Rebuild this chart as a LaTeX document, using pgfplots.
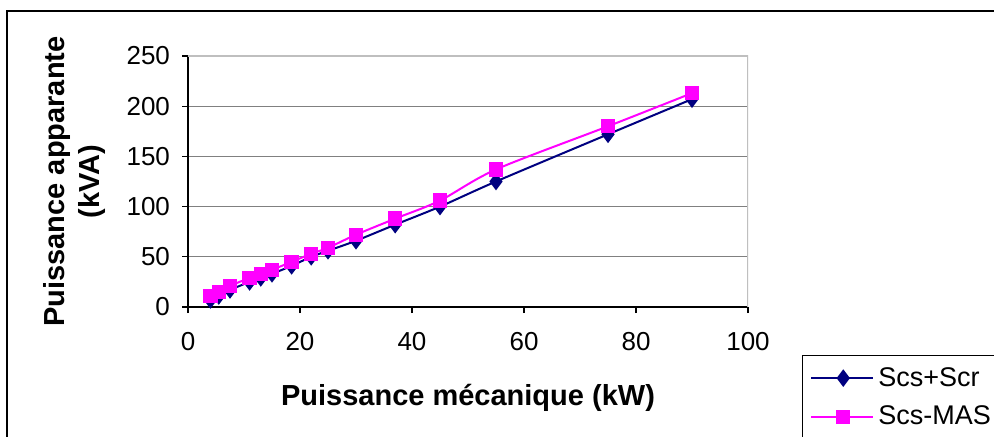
\documentclass[border=0pt]{standalone}
\usepackage{fontspec}
\setmainfont{Liberation Sans}
\usepackage{pgfplots}
\pgfplotsset{compat=1.18}
\definecolor{navyc}{HTML}{000080}
\definecolor{magc}{HTML}{FF00FF}
\begin{document}
\begin{tikzpicture}
\clip (0,0) rectangle (497pt,-218.5pt);
\fill[white] (0,0) rectangle (497pt,-218.5pt);
\draw[black, line width=1pt] (3.7pt,-5.5pt) rectangle (530pt,-260pt);
\begin{axis}[
  at={(94pt,-153.5pt)}, anchor=south west,
  scale only axis, width=280pt, height=125.5pt,
  xmin=0, xmax=100, ymin=0, ymax=250,
  xtick={0,20,...,100}, ytick={0,50,...,250},
  axis lines*=left,
  axis line style={black, line width=0.6pt, -},
  tick align=outside, major tick length=3pt,
  tick style={black, line width=0.6pt},
  ymajorgrids, grid style={color=black!50, line width=0.6pt},
  /pgf/number format/assume math mode=true,
  tick label style={font=\fontsize{13}{15}\selectfont},
  yticklabel style={xshift=-2.5pt},
  xticklabel style={yshift=-6pt},
  xlabel={Puissance mécanique (kW)},
  ylabel={Puissance apparante\\(kVA)},
  xlabel style={at={(axis description cs:0.5,0)}, anchor=base, yshift=-49pt, font=\bfseries\fontsize{14.5}{17}\selectfont},
  ylabel style={at={(axis description cs:-0.202,0.5)}, anchor=center, align=center, rotate=0, font=\bfseries\fontsize{14.5}{17.5}\selectfont},
  legend style={at={(axis description cs:1.096,-0.19)}, anchor=north west, draw=black, line width=0.5pt, font=\fontsize{13.5}{15}\selectfont, row sep=4.5pt, inner sep=4pt},
  legend cell align=left,
  legend image code/.code={\path (0pt,0pt) -- (31pt,0pt); \draw[mark repeat=2,mark phase=2,#1] plot coordinates {(2pt,0pt) (16pt,0pt) (30pt,0pt)};},
]
\addplot[navyc, line width=1pt, smooth, mark=diamond*, mark size=3.6pt, mark options={fill=navyc, draw=navyc, solid}]
coordinates {(4,7) (5.5,11) (7.5,17) (11,25) (13,29) (15,33) (18.5,41) (22,50) (25,56) (30,66) (37,82) (45,100) (55,125) (75,172) (90,207)};
\addlegendentry{Scs+Scr}
\addplot[magc, line width=1pt, smooth, mark=square*, mark size=3.1pt, mark options={fill=magc, draw=magc, solid}]
coordinates {(4,11) (5.5,15) (7.5,21) (11,29) (13,33) (15,37) (18.5,45) (22,53) (25,59) (30,72) (37,88) (45,106) (55,137) (75,180) (90,213)};
\addlegendentry{Scs-MAS}
\draw[black!25, line width=1.2pt] (rel axis cs:0,1) -- (rel axis cs:1,1) -- (rel axis cs:1,0);
\end{axis}
\end{tikzpicture}
\end{document}
